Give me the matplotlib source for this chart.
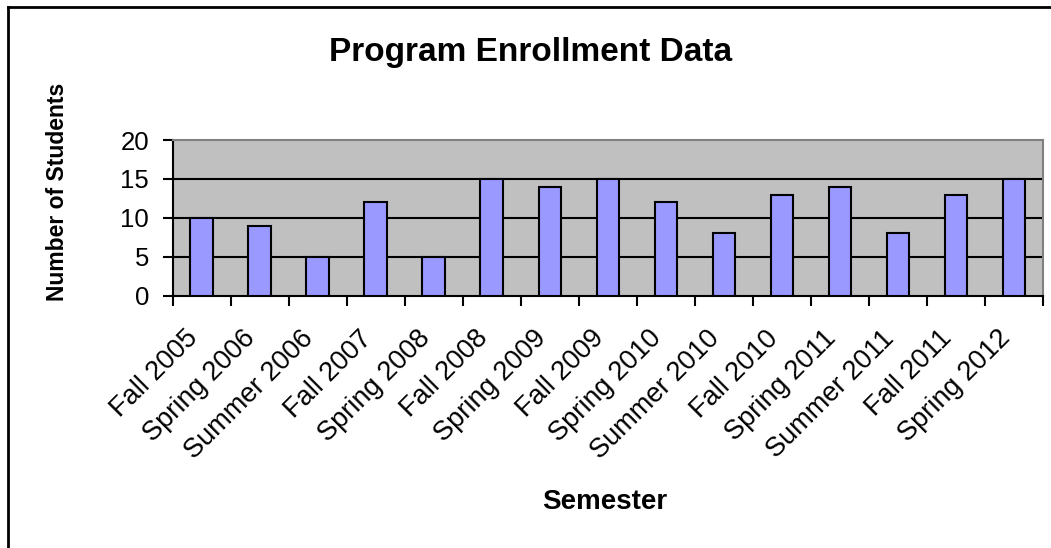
import matplotlib
matplotlib.use('Agg')
import matplotlib.pyplot as plt
import matplotlib.transforms as mtransforms
from matplotlib.lines import Line2D

# 學期與人數
semesters = ['Fall 2005', 'Spring 2006', 'Summer 2006', 'Fall 2007', 'Spring 2008',
             'Fall 2008', 'Spring 2009', 'Fall 2009', 'Spring 2010', 'Summer 2010',
             'Fall 2010', 'Spring 2011', 'Summer 2011', 'Fall 2011', 'Spring 2012']
students = [10, 9, 5, 12, 5, 15, 14, 15, 12, 8, 13, 14, 8, 13, 15]
y_ticks = [0, 5, 10, 15, 20]

plt.rcParams['font.family'] = ['Liberation Sans', 'DejaVu Sans']

fig = plt.figure(figsize=(10.51, 5.48), dpi=100)
ax = fig.add_axes([0.1643, 0.4604, 0.9924 - 0.1643, 0.7445 - 0.4604])
ax.set_facecolor('#C0C0C0')

x = list(range(len(students)))
ax.bar(x, students, width=0.39, color='#9999FF', edgecolor='black', linewidth=1.5, zorder=3)

ax.set_xlim(-0.5, len(students) - 0.5)
ax.set_ylim(0, 20)
ax.set_yticks(y_ticks)
ax.set_yticklabels([str(v) for v in y_ticks], fontsize=18.5)

# 格線
for v in y_ticks[1:-1]:
    ax.axhline(v, color='black', linewidth=1.5, zorder=1)

# x 軸刻度放在類別之間
ax.set_xticks([i - 0.5 for i in range(len(students) + 1)])
ax.set_xticklabels([])
ax.tick_params(axis='x', which='major', direction='out', length=7, width=1.5)
ax.set_xticks(x, minor=True)
ax.set_xticklabels(semesters, minor=True, rotation=45, ha='right', va='center',
                   rotation_mode='anchor', fontsize=19.5)
ax.tick_params(axis='x', which='minor', length=0, pad=28)
ax.tick_params(axis='y', direction='out', length=7, width=1.5, pad=10)

# 標籤往左移一點
shift = mtransforms.ScaledTranslation(-8 / 100, 0, fig.dpi_scale_trans)
for lab in ax.get_xticklabels(minor=True):
    lab.set_transform(lab.get_transform() + shift)

for s in ['left', 'bottom']:
    ax.spines[s].set_linewidth(1.5)
    ax.spines[s].set_color('black')
for s in ['top', 'right']:
    ax.spines[s].set_linewidth(1.5)
    ax.spines[s].set_color('#808080')

fig.text(0.505, 1 - 52 / 548, 'Program Enrollment Data', ha='center', va='center',
         fontsize=24, fontweight='bold')
fig.text(58 / 1051, 1 - 192 / 548, 'Number of Students', ha='center', va='center',
         rotation=90, fontsize=16.5, fontweight='bold')
fig.text(605 / 1051, 1 - 502 / 548, 'Semester', ha='center', va='center',
         fontsize=20, fontweight='bold')

# 外框 (只看得到上、左)
fig.add_artist(Line2D([8 / 1051, 8 / 1051], [0, 1 - 7 / 548], color='black', linewidth=2))
fig.add_artist(Line2D([8 / 1051, 1], [1 - 7 / 548, 1 - 7 / 548], color='black', linewidth=2))

fig.savefig('out.png', dpi=100)
